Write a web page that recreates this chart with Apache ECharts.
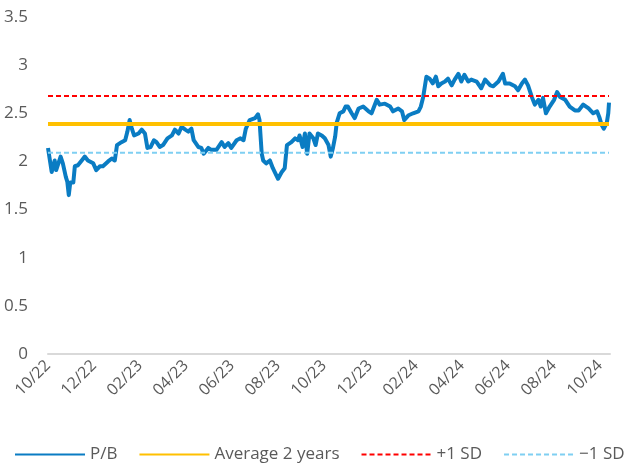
<!DOCTYPE html>
<html>
<head>
<meta charset="utf-8">
<script src="https://cdn.jsdelivr.net/npm/echarts@6/dist/echarts.min.js"></script>
<style>
  html, body { margin: 0; padding: 0; background: #fff; }
  #chart { width: 630px; height: 463px; }
</style>
</head>
<body>
<div id="chart"></div>
<script>
const dates = [
  '2022-10-01', '2022-10-06', '2022-10-10', '2022-10-12', '2022-10-18', '2022-10-21', '2022-10-25',
  '2022-10-27', '2022-10-29', '2022-10-31', '2022-11-04', '2022-11-06', '2022-11-10', '2022-11-15',
  '2022-11-19', '2022-11-23', '2022-11-30', '2022-12-04', '2022-12-09', '2022-12-13', '2022-12-20',
  '2022-12-25', '2022-12-29', '2023-01-01', '2023-01-07', '2023-01-12', '2023-01-15', '2023-01-18',
  '2023-01-21', '2023-01-24', '2023-01-30', '2023-02-03', '2023-02-07', '2023-02-10', '2023-02-14',
  '2023-02-18', '2023-02-21', '2023-02-25', '2023-03-01', '2023-03-07', '2023-03-13', '2023-03-17',
  '2023-03-22', '2023-03-26', '2023-03-31', '2023-04-04', '2023-04-08', '2023-04-11', '2023-04-17',
  '2023-04-21', '2023-04-24', '2023-04-30', '2023-05-04', '2023-05-11', '2023-05-18', '2023-05-22',
  '2023-05-27', '2023-05-31', '2023-06-07', '2023-06-12', '2023-06-16', '2023-06-19', '2023-06-24',
  '2023-07-01', '2023-07-05', '2023-07-07', '2023-07-10', '2023-07-12', '2023-07-16', '2023-07-21',
  '2023-07-25', '2023-08-01', '2023-08-06', '2023-08-10', '2023-08-13', '2023-08-19', '2023-08-24',
  '2023-08-28', '2023-08-30', '2023-09-03', '2023-09-06', '2023-09-09', '2023-09-12', '2023-09-17',
  '2023-09-20', '2023-09-23', '2023-09-28', '2023-10-02', '2023-10-07', '2023-10-10', '2023-10-13',
  '2023-10-16', '2023-10-18', '2023-10-22', '2023-10-27', '2023-10-30', '2023-11-02', '2023-11-07',
  '2023-11-11', '2023-11-16', '2023-11-22', '2023-11-29', '2023-12-03', '2023-12-10', '2023-12-14',
  '2023-12-21', '2023-12-28', '2024-01-01', '2024-01-08', '2024-01-13', '2024-01-16', '2024-01-22',
  '2024-01-28', '2024-02-04', '2024-02-07', '2024-02-10', '2024-02-14', '2024-02-18', '2024-02-22',
  '2024-02-26', '2024-02-29', '2024-03-04', '2024-03-09', '2024-03-13', '2024-03-18', '2024-03-22',
  '2024-03-27', '2024-03-31', '2024-04-04', '2024-04-09', '2024-04-13', '2024-04-20', '2024-04-26',
  '2024-05-01', '2024-05-08', '2024-05-12', '2024-05-19', '2024-05-25', '2024-05-28', '2024-06-03',
  '2024-06-10', '2024-06-14', '2024-06-19', '2024-06-23', '2024-06-27', '2024-07-02', '2024-07-06',
  '2024-07-11', '2024-07-14', '2024-07-17', '2024-07-21', '2024-07-26', '2024-08-01', '2024-08-05',
  '2024-08-09', '2024-08-16', '2024-08-22', '2024-08-29', '2024-09-03', '2024-09-09', '2024-09-16',
  '2024-09-22', '2024-09-27', '2024-09-30', '2024-10-03', '2024-10-06', '2024-10-10', '2024-10-12',
  '2024-10-13'
];
const pb = [
  2.14, 1.89, 2.01, 1.91, 2.05, 1.98, 1.84,
  1.79, 1.65, 1.78, 1.78, 1.95, 1.96, 2.01,
  2.05, 2.01, 1.98, 1.91, 1.95, 1.95, 2.00,
  2.03, 2.01, 2.17, 2.20, 2.22, 2.31, 2.43,
  2.34, 2.27, 2.29, 2.33, 2.29, 2.14, 2.15,
  2.22, 2.20, 2.15, 2.17, 2.24, 2.27, 2.33,
  2.29, 2.36, 2.33, 2.31, 2.34, 2.22, 2.15,
  2.14, 2.08, 2.14, 2.12, 2.12, 2.20, 2.15,
  2.19, 2.14, 2.22, 2.24, 2.22, 2.34, 2.43,
  2.45, 2.49, 2.43, 2.08, 2.01, 1.98, 2.01,
  1.93, 1.82, 1.89, 1.93, 2.17, 2.20, 2.24,
  2.22, 2.27, 2.15, 2.29, 2.08, 2.29, 2.24,
  2.17, 2.29, 2.27, 2.24, 2.17, 2.05, 2.14,
  2.26, 2.40, 2.50, 2.52, 2.57, 2.57, 2.50,
  2.45, 2.55, 2.57, 2.52, 2.50, 2.64, 2.59,
  2.60, 2.57, 2.52, 2.55, 2.52, 2.43, 2.48,
  2.50, 2.52, 2.57, 2.67, 2.88, 2.86, 2.81,
  2.88, 2.78, 2.81, 2.83, 2.86, 2.79, 2.85,
  2.91, 2.83, 2.90, 2.83, 2.85, 2.83, 2.76,
  2.85, 2.79, 2.78, 2.83, 2.91, 2.81, 2.81,
  2.78, 2.74, 2.81, 2.85, 2.79, 2.67, 2.59,
  2.64, 2.57, 2.66, 2.50, 2.57, 2.64, 2.72,
  2.67, 2.64, 2.57, 2.53, 2.53, 2.59, 2.55,
  2.50, 2.52, 2.46, 2.38, 2.34, 2.40, 2.50,
  2.61
];
const average2y = 2.39;
const plusOneSd = 2.68;
const minusOneSd = 2.09;
const tickLabels = ['10/22', '12/22', '02/23', '04/23', '06/23', '08/23', '10/23',
  '12/23', '02/24', '04/24', '06/24', '08/24', '10/24'];

// months since October 2022, fractional
function monthIndex(d) {
  const [y, m, day] = d.split('-').map(Number);
  const dim = new Date(y, m, 0).getDate();
  return (y - 2022) * 12 + (m - 10) + (day - 1) / dim;
}
const xs = dates.map(monthIndex);
const flat = v => xs.map(x => [x, v]);

const font = '"Open Sans", sans-serif';
const grey = '#5a5a5a';
const chart = echarts.init(document.getElementById('chart'));
chart.setOption({
  animation: false,
  textStyle: { fontFamily: font },
  grid: { left: 48, right: 20, top: 17, bottom: 109, outerBoundsMode: 'none' },
  legend: {
    top: 446,
    left: 14,
    width: 616,
    padding: 0,
    itemWidth: 70,
    itemHeight: 14,
    itemGap: 21,
    itemStyle: { opacity: 0 },
    textStyle: { fontSize: 17, color: grey, fontFamily: font },
    data: ['P/B', 'Average 2 years', '+1 SD', '−1 SD']
  },
  xAxis: {
    type: 'value',
    min: 0,
    max: 24.43,
    interval: 2,
    splitLine: { show: false },
    axisTick: { show: false },
    axisLine: { show: true, lineStyle: { color: '#d9d9d9', width: 2 } },
    axisLabel: {
      rotate: 45,
      margin: 9,
      fontSize: 16,
      color: grey,
      showMaxLabel: false,
      formatter: v => (Math.abs(v / 2 - Math.round(v / 2)) < 1e-6 ? tickLabels[Math.round(v / 2)] || '' : '')
    }
  },
  yAxis: {
    type: 'value',
    min: 0,
    max: 3.5,
    interval: 0.5,
    splitLine: { show: false },
    axisTick: { show: false },
    axisLine: { show: false },
    axisLabel: { fontSize: 17, color: grey, margin: 20 }
  },
  series: [
    {
      name: 'P/B', type: 'line', symbol: 'none',
      data: xs.map((x, i) => [x, pb[i]]),
      lineStyle: { color: '#0a7cc3', width: 4, join: 'round' },
      itemStyle: { color: '#0a7cc3' }
    },
    {
      name: 'Average 2 years', type: 'line', symbol: 'none',
      data: flat(average2y),
      lineStyle: { color: '#ffc000', width: 4 },
      itemStyle: { color: '#ffc000' }
    },
    {
      name: '+1 SD', type: 'line', symbol: 'none',
      data: flat(plusOneSd),
      lineStyle: { color: '#ff0000', width: 2, type: [5, 3] },
      itemStyle: { color: '#ff0000' }
    },
    {
      name: '−1 SD', type: 'line', symbol: 'none',
      data: flat(minusOneSd),
      lineStyle: { color: '#7fcff2', width: 2, type: [5, 3] },
      itemStyle: { color: '#7fcff2' }
    }
  ]
});
</script>
</body>
</html>
